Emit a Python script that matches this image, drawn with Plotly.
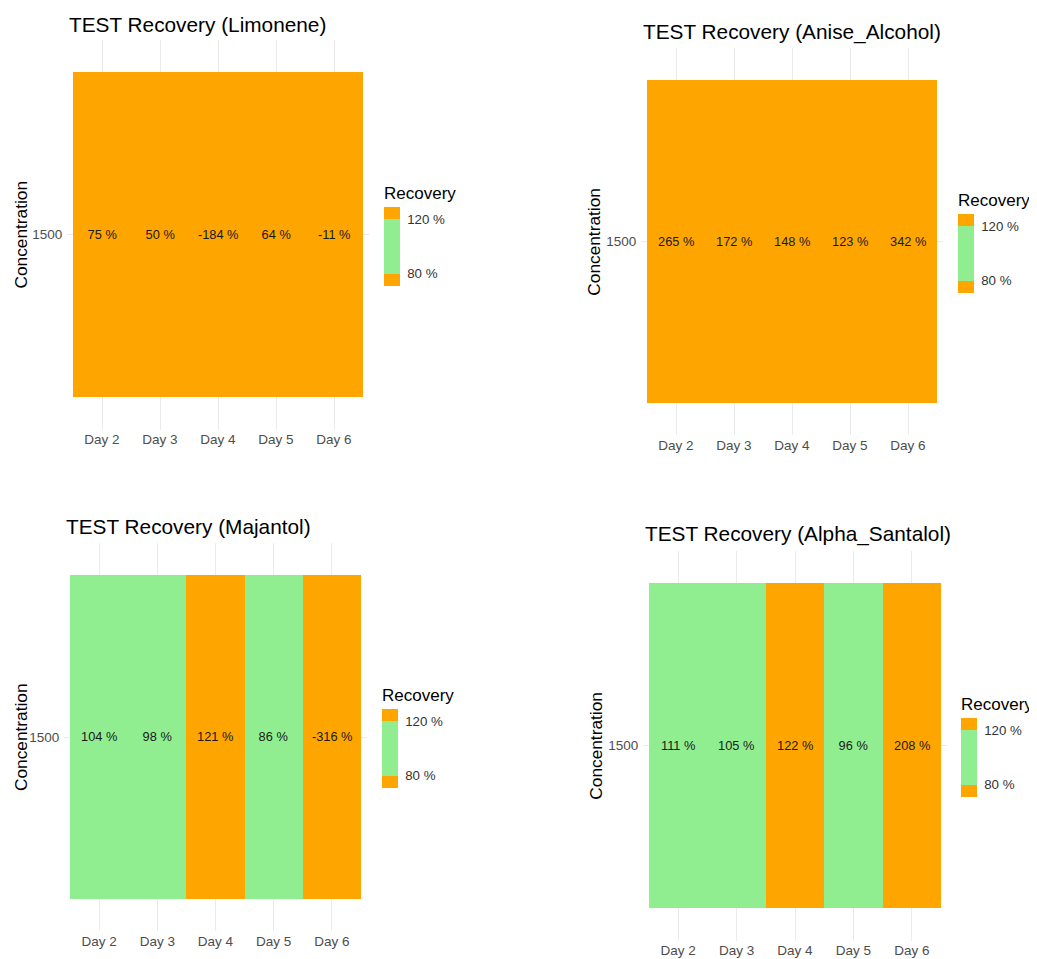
import plotly.graph_objects as go

# --------------------------------------------------
# Data
# --------------------------------------------------
days = ["Day 2", "Day 3", "Day 4", "Day 5", "Day 6"]
concentration = ["1500"]

compounds = ["Limonene", "Anise_Alcohol", "Majantol", "Alpha_Santalol"]
limonene = [75, 50, -184, 64, -11]
anise_alcohol = [265, 172, 148, 123, 342]
majantol = [104, 98, 121, 86, -316]
alpha_santalol = [111, 105, 122, 96, 208]

recovery_ticks = [80, 120]
recovery_ticktext = ["80 %", "120 %"]

# page body adds an 8px margin, so the figure is a bit smaller than the window
OFF = 8
W, H = 1037 - OFF, 959 - OFF
FONT = "Liberation Sans, Arial, sans-serif"
ORANGE = "#FFA500"
GREEN = "#90EE90"

# recovery scale: inside 80-120 is green, everything else orange
ZMIN, ZMAX = 71, 129
lo = (80 - ZMIN) / (ZMAX - ZMIN)
hi = (120 - ZMIN) / (ZMAX - ZMIN)
colorscale = [
    [0, ORANGE], [lo, ORANGE], [lo, GREEN],
    [hi, GREEN], [hi, ORANGE], [1, ORANGE],
]

# panel boxes in window pixels: (left, right, top, bottom),
# colorbar (left, bar top), title (left, centre y)
panels = [
    dict(vals=limonene, box=(67.2, 368.8, 39.5, 429.5), cb=(384, 208), title=(67, 24)),
    dict(vals=anise_alcohol, box=(641.2, 942.8, 47.7, 435.3), cb=(958, 215), title=(641, 32)),
    dict(vals=majantol, box=(64.2, 366.8, 542.6, 931.4), cb=(382, 710), title=(64, 526)),
    dict(vals=alpha_santalol, box=(643.2, 946.8, 550.5, 940.5), cb=(961, 719), title=(643, 534)),
]
BAR_LEN = 78
CB_TITLE = 25


def px_x(v):
    return (v - OFF) / W


def px_y(v):
    return 1 - (v - OFF) / H


fig = go.Figure()
annotations = []

for i, (name, p) in enumerate(zip(compounds, panels)):
    n = "" if i == 0 else str(i + 1)
    left, right, top, bottom = p["box"]
    cbx, cbtop = p["cb"]

    fig.add_trace(go.Heatmap(
        x=days,
        y=concentration,
        z=[p["vals"]],
        text=[[f"{v} %" for v in p["vals"]]],
        texttemplate="%{text}",
        textfont=dict(family=FONT, size=12.8, color="#1a1a1a"),
        colorscale=colorscale,
        zmin=ZMIN,
        zmax=ZMAX,
        xaxis="x" + n,
        yaxis="y" + n,
        colorbar=dict(
            title=dict(text="Recovery", side="top",
                       font=dict(family=FONT, size=17, color="#000000")),
            x=px_x(cbx), xanchor="left",
            y=px_y(cbtop + BAR_LEN), yanchor="bottom",
            len=BAR_LEN + CB_TITLE, lenmode="pixels",
            thickness=16, thicknessmode="pixels",
            xpad=0, ypad=0, outlinewidth=0,
            tickvals=recovery_ticks, ticktext=recovery_ticktext,
            ticks="outside", ticklen=5, tickcolor="rgba(0,0,0,0)",
            tickfont=dict(family=FONT, size=13.3, color="#333333"),
        ),
        hovertemplate="%{x}: %{z} %<extra></extra>",
    ))

    fig.layout["xaxis" + n] = dict(
        domain=[px_x(left), px_x(right)],
        anchor="y" + n,
        type="category",
        range=[-0.6, 4.6],
        showgrid=True, gridcolor="#EBEBEB", gridwidth=1,
        zeroline=False, showline=False, ticks="",
        tickfont=dict(family=FONT, size=13.5, color="#4D4D4D"),
        fixedrange=True,
    )
    fig.layout["yaxis" + n] = dict(
        domain=[px_y(bottom), px_y(top)],
        anchor="x" + n,
        type="category",
        range=[-0.6, 0.6],
        showgrid=True, gridcolor="#EBEBEB", gridwidth=1,
        zeroline=False, showline=False, ticks="",
        ticklabelstandoff=4,
        tickfont=dict(family=FONT, size=13.5, color="#4D4D4D"),
        fixedrange=True,
    )

    tx, ty = p["title"]
    annotations.append(dict(
        text=f"TEST Recovery ({name})",
        x=px_x(tx), y=px_y(ty), xref="paper", yref="paper",
        xanchor="left", yanchor="middle", showarrow=False,
        font=dict(family=FONT, size=20.8, color="#000000"),
    ))
    annotations.append(dict(
        text="Concentration",
        x=px_x(max(left - 48, 21)), y=px_y((top + bottom) / 2),
        xref="paper", yref="paper",
        xanchor="center", yanchor="middle", showarrow=False, textangle=-90,
        font=dict(family=FONT, size=17.3, color="#000000"),
    ))

fig.update_layout(
    width=W,
    height=H,
    margin=dict(l=0, r=0, t=0, b=0),
    paper_bgcolor="white",
    plot_bgcolor="white",
    annotations=annotations,
)

fig.write_html("out.html")
